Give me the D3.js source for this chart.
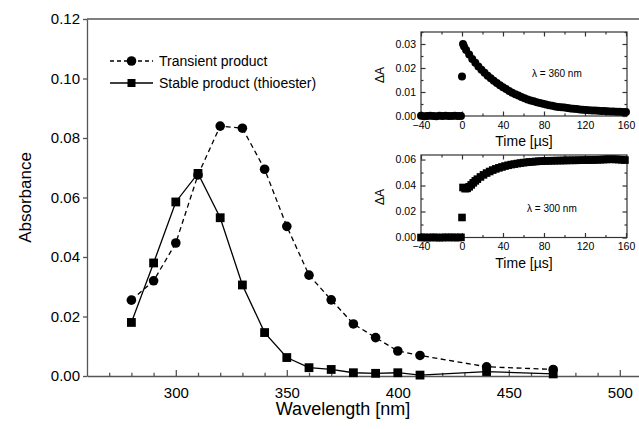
<!DOCTYPE html>
<html><head><meta charset="utf-8">
<script src="https://cdn.jsdelivr.net/npm/d3@7"></script>
<style>
body{margin:0;background:#fff;}
svg{display:block;font-family:"Liberation Sans",Arial,Helvetica,sans-serif;}
</style></head>
<body><svg id="c" width="639" height="429"></svg>
<script>
// ---- main spectrum data ----
const wavelengths = [280,290,300,310,320,330,340,350,360,370,380,390,400,410,440,470];
const transient   = [0.0255,0.032,0.0447,0.0676,0.084,0.0833,0.0695,0.0503,0.0339,0.0256,0.0175,0.0129,0.0084,0.0069,0.0031,0.0022];
const stable      = [0.018,0.038,0.0585,0.0681,0.0532,0.0306,0.0146,0.0062,0.0028,0.0022,0.0011,0.0009,0.0011,0.0003,0.0015,0.0007];
const xTicks = [300,350,400,450,500];
const yTicks = [0,0.02,0.04,0.06,0.08,0.10,0.12];
const legendLabels = ["Transient product","Stable product (thioester)"];

// ---- inset 1 (360 nm) kinetics ----
const kin360Time  = [-40,-37,-34,-31,-28,-25,-22,-19,-16,-13,-10,-7,-4,-1,0,
  1,2,4,7,10,13,16,19,22,25,28,31,34,37,40,43,46,49,52,55,58,61,64,67,70,73,76,79,82,85,88,91,94,97,100,
  103,106,109,112,115,118,121,124,127,130,133,136,139,142,145,148,151,154,157,160];
const kin360Value = [0.0001,-0.0001,0.0000,0.0001,0.0000,-0.0001,0.0001,0.0000,0.0001,0.0000,0.0000,0.0001,0.0000,0.0000,0.0165,
  0.0300,0.0290,0.0275,0.0256,0.0238,0.0222,0.0206,0.0193,0.0180,0.0168,0.0157,0.0147,0.0137,0.0128,0.0120,0.0112,0.0104,0.0097,0.0091,0.0085,
  0.0079,0.0074,0.0069,0.0065,0.0061,0.0057,0.0054,0.0051,0.0048,0.0045,0.0043,0.0040,0.0038,0.0036,0.0035,
  0.0033,0.0031,0.0030,0.0029,0.0027,0.0026,0.0025,0.0024,0.0023,0.0023,0.0022,0.0021,0.0021,0.0020,0.0019,0.0019,0.0018,0.0018,0.0017,0.0017];

// ---- inset 2 (300 nm) kinetics ----
const kin300Time  = [-40,-37,-34,-31,-28,-25,-22,-19,-16,-13,-10,-7,-4,-1,0,
  1,3,5,7,9,11,13,15,18,21,24,27,30,33,36,39,42,45,48,51,54,57,60,63,66,69,72,75,78,81,84,87,90,93,96,99,
  102,105,108,111,114,117,120,123,126,129,132,135,138,141,144,147,150,153,156,159];
const kin300Value = [0.0000,0.0001,-0.0001,0.0000,0.0001,0.0000,-0.0001,0.0000,0.0001,0.0000,0.0001,0.0000,0.0000,0.0001,0.0154,
  0.0385,0.0376,0.0378,0.0390,0.0405,0.0421,0.0436,0.0449,0.0466,0.0482,0.0496,0.0508,0.0519,0.0528,0.0536,0.0543,0.0550,0.0556,0.0561,0.0565,
  0.0569,0.0573,0.0576,0.0579,0.0581,0.0583,0.0585,0.0587,0.0588,0.0589,0.0590,0.0591,0.0591,0.0592,0.0592,0.0593,
  0.0593,0.0594,0.0594,0.0594,0.0595,0.0595,0.0596,0.0596,0.0597,0.0597,0.0598,0.0599,0.0600,0.0601,0.0602,0.0602,0.0601,0.0600,0.0598,0.0596];
const insetXTicks = [-40,0,40,80,120,160];
const insetXMinor = [-20,20,60,100,140];
const inset1YTicks = [0,0.01,0.02,0.03];
const inset1YMinor = [0.005,0.015,0.025,0.035];
const inset2YTicks = [0,0.02,0.04,0.06];
const inset2YMinor = [0.01,0.03,0.05];

const svg = d3.select("#c");
const axisCol = "#555";

// ---------- main plot ----------
const x = d3.scaleLinear().domain([260,510]).range([87,642]);
const y = d3.scaleLinear().domain([0,0.12]).range([376,19]);

const gx = svg.append("g").attr("transform","translate(0,376)")
  .call(d3.axisBottom(x).tickValues(xTicks).tickSizeInner(-6).tickSizeOuter(0).tickPadding(11).tickFormat(d3.format("d")));
const gxm = svg.append("g").attr("transform","translate(0,376)")
  .call(d3.axisBottom(x).tickValues(d3.range(270,511,10).filter(v=>v%50)).tickSizeInner(-3.3).tickSizeOuter(0).tickFormat(""));
gxm.select(".domain").remove();
const gy = svg.append("g").attr("transform","translate(87,0)")
  .call(d3.axisLeft(y).tickValues(yTicks).tickSizeInner(4).tickSizeOuter(0).tickPadding(3).tickFormat(d3.format(".2f")));
[gx,gxm,gy].forEach(g=>{
  g.selectAll("path,line").attr("stroke",axisCol).attr("stroke-width",1.3);
  g.selectAll("text").attr("font-size",15).attr("fill","#000").attr("font-family",'"Liberation Sans",Arial,sans-serif');
});
svg.append("line").attr("x1",x.range()[0]).attr("x2",639).attr("y1",y(0.12)).attr("y2",y(0.12))
  .attr("stroke",axisCol).attr("stroke-width",1.3);

svg.append("text").attr("transform",`translate(31,${(y(0)+y(0.12))/2}) rotate(-90)`)
  .attr("text-anchor","middle").attr("font-size",17).text("Absorbance");
svg.append("text").attr("x",343).attr("y",415).attr("text-anchor","middle").attr("font-size",18).text("Wavelength [nm]");

const line = d3.line().x(d=>x(d[0])).y(d=>y(d[1]));
const tData = wavelengths.map((w,i)=>[w,transient[i]]);
const sData = wavelengths.map((w,i)=>[w,stable[i]]);
svg.append("path").datum(tData).attr("d",line).attr("fill","none").attr("stroke","#000")
  .attr("stroke-width",1.3).attr("stroke-dasharray","5,3.5");
svg.append("path").datum(sData).attr("d",line).attr("fill","none").attr("stroke","#000").attr("stroke-width",1.3);
svg.append("g").selectAll("circle").data(tData).join("circle")
  .attr("cx",d=>x(d[0])).attr("cy",d=>y(d[1])).attr("r",4.8).attr("fill","#000");
svg.append("g").selectAll("rect").data(sData).join("rect")
  .attr("x",d=>x(d[0])-4.4).attr("y",d=>y(d[1])-4.4).attr("width",8.8).attr("height",8.8).attr("fill","#000");

// legend
const lg = svg.append("g");
[[61,true],[83,false]].forEach(([ly,dashed],i)=>{
  lg.append("line").attr("x1",110).attr("x2",153).attr("y1",ly).attr("y2",ly).attr("stroke","#000")
    .attr("stroke-width",1.3).attr("stroke-dasharray",dashed?"4,3":null);
  if(dashed) lg.append("circle").attr("cx",131.5).attr("cy",ly).attr("r",4.8);
  else lg.append("rect").attr("x",127.5).attr("y",ly-4).attr("width",8).attr("height",8);
  lg.append("text").attr("x",159).attr("y",ly).attr("dy","0.35em").attr("font-size",14).text(legendLabels[i]);
});

// ---------- insets ----------
function inset(cfg){
  const ix = d3.scaleLinear().domain([-40,161]).range([421,627]);
  const iy = d3.scaleLinear().domain(cfg.ydom).range([cfg.bottom,cfg.top]);
  const g = svg.append("g");
  g.append("rect").attr("x",421).attr("y",cfg.top).attr("width",206).attr("height",cfg.bottom-cfg.top).attr("fill","#fff");
  const axes = [];
  axes.push(g.append("g").attr("transform",`translate(0,${cfg.bottom})`)
    .call(d3.axisBottom(ix).tickValues(insetXTicks).tickSizeInner(-4.5).tickSizeOuter(0).tickPadding(5.5)));
  axes.push(g.append("g").attr("transform",`translate(0,${cfg.bottom})`)
    .call(d3.axisBottom(ix).tickValues(insetXMinor).tickSizeInner(-2.5).tickSizeOuter(0).tickFormat("")));
  axes.push(g.append("g").attr("transform",`translate(0,${cfg.top})`)
    .call(d3.axisTop(ix).tickValues(insetXTicks).tickSizeInner(-4.5).tickSizeOuter(0).tickFormat("")));
  axes.push(g.append("g").attr("transform",`translate(0,${cfg.top})`)
    .call(d3.axisTop(ix).tickValues(insetXMinor).tickSizeInner(-2.5).tickSizeOuter(0).tickFormat("")));
  axes.push(g.append("g").attr("transform","translate(421,0)")
    .call(d3.axisLeft(iy).tickValues(cfg.yt).tickSizeInner(-4.5).tickSizeOuter(0).tickPadding(5).tickFormat(d3.format(".2f"))));
  axes.push(g.append("g").attr("transform","translate(421,0)")
    .call(d3.axisLeft(iy).tickValues(cfg.ym).tickSizeInner(-2.5).tickSizeOuter(0).tickFormat("")));
  axes.push(g.append("g").attr("transform","translate(627,0)")
    .call(d3.axisRight(iy).tickValues(cfg.yt).tickSizeInner(-4.5).tickSizeOuter(0).tickFormat("")));
  axes.push(g.append("g").attr("transform","translate(627,0)")
    .call(d3.axisRight(iy).tickValues(cfg.ym).tickSizeInner(-2.5).tickSizeOuter(0).tickFormat("")));
  axes.forEach(a=>{
    a.select(".domain").remove();
    a.selectAll("line").attr("stroke","#333").attr("stroke-width",1.2);
    a.selectAll("text").attr("font-size",10.5).attr("fill","#000").attr("font-family",'"Liberation Sans",Arial,sans-serif');
  });
  g.append("rect").attr("x",421).attr("y",cfg.top).attr("width",206).attr("height",cfg.bottom-cfg.top)
    .attr("fill","none").attr("stroke","#333").attr("stroke-width",1.2);
  const pts = cfg.t.map((t,i)=>[t,cfg.v[i]]);
  if(cfg.square){
    g.append("g").selectAll("rect").data(pts).join("rect")
      .attr("x",d=>ix(d[0])-3.8).attr("y",d=>iy(d[1])-3.8).attr("width",7.6).attr("height",7.6).attr("fill","#000");
  } else {
    g.append("g").selectAll("circle").data(pts).join("circle")
      .attr("cx",d=>ix(d[0])).attr("cy",d=>iy(d[1])).attr("r",4).attr("fill","#000");
  }
  g.append("text").attr("transform",`translate(384,${cfg.dAy}) rotate(-90)`).attr("text-anchor","middle")
    .attr("font-size",12).text("ΔA");
  g.append("text").attr("x",524).attr("y",cfg.timeY).attr("text-anchor","middle").attr("font-size",14).text("Time [µs]");
  g.append("text").attr("x",cfg.lamX).attr("y",cfg.lamY).attr("font-size",10).text(cfg.lam);
}
inset({top:32,bottom:116,ydom:[0,0.035],yt:inset1YTicks,ym:inset1YMinor,t:kin360Time,v:kin360Value,
  square:false,dAy:75,timeY:146,lamX:532,lamY:77,lam:"λ = 360 nm"});
inset({top:155,bottom:237.5,ydom:[0,0.0635],yt:inset2YTicks,ym:inset2YMinor,t:kin300Time,v:kin300Value,
  square:true,dAy:197,timeY:268,lamX:527,lamY:212,lam:"λ = 300 nm"});
</script></body></html>
